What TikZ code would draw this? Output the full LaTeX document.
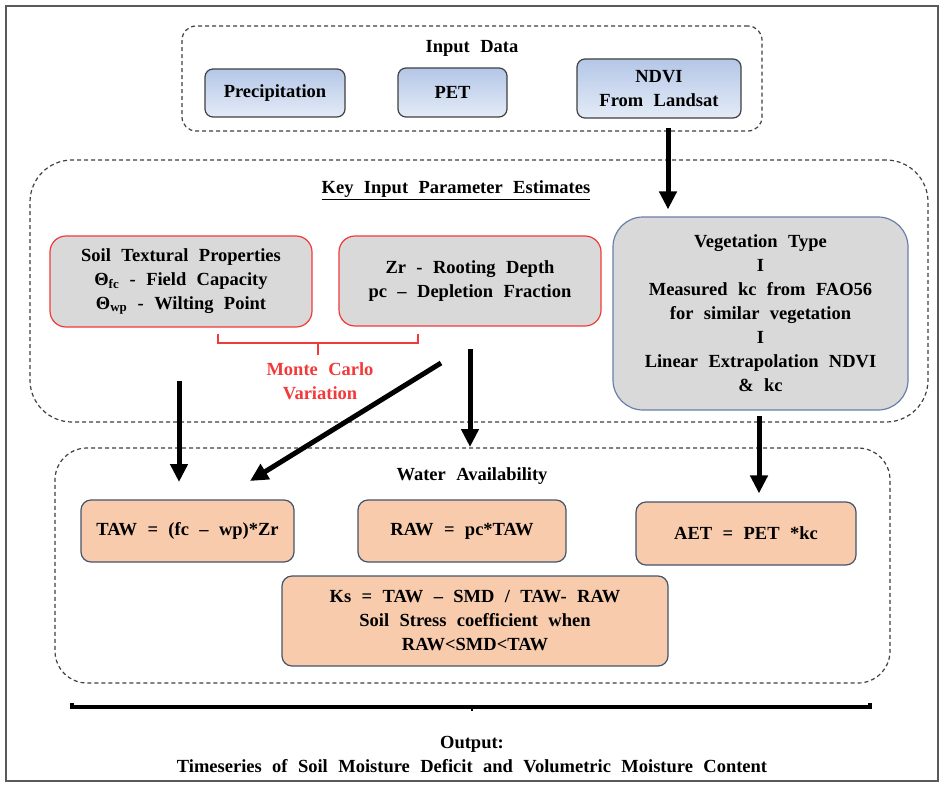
\documentclass[tikz,border=0pt]{standalone}
\usepackage{fontspec}
\setmainfont{Liberation Serif}[UprightFont={* Bold}, BoldFont={* Bold}, WordSpace=1.5]
\usetikzlibrary{arrows.meta}
\definecolor{blueTop}{HTML}{B4C7E7}
\definecolor{blueBot}{HTML}{E4EBF7}
\definecolor{boxGray}{HTML}{D9D9D9}
\definecolor{redLine}{HTML}{F23A3A}
\definecolor{vegLine}{HTML}{6A7FA8}
\definecolor{peach}{HTML}{F8CBAD}
\definecolor{peachLine}{HTML}{44546A}
\definecolor{dashGray}{HTML}{404040}
\definecolor{frameGray}{HTML}{5A5A5A}
\tikzset{
  txt/.style={font=\fontsize{18.5}{24}\selectfont\bfseries, align=center, inner sep=0pt},
  groupbox/.style={draw=dashGray, dashed, dash pattern=on 4pt off 3pt, line width=1.2pt, inner sep=0pt},
  inbox/.style={txt, draw=dashGray, line width=1.2pt, rounded corners=8pt, top color=blueTop, bottom color=blueBot},
  parbox/.style={txt, draw=redLine, line width=1.2pt, rounded corners=16pt, fill=boxGray},
  vegbox/.style={txt, draw=vegLine, line width=1.2pt, rounded corners=30pt, fill=boxGray},
  wabox/.style={txt, draw=peachLine, line width=1.2pt, rounded corners=10pt, fill=peach},
  arr/.style={line width=5pt, -{Triangle[width=17pt,length=18pt]}},
}
\begin{document}
\begin{tikzpicture}[x=1pt,y=-1pt]
\useasboundingbox (0,0) rectangle (944,784);
\fill[white] (0,0) rectangle (944,784);
\draw[frameGray, line width=2pt] (6,6) rectangle (938,781);

% group boxes
\node[groupbox, rounded corners=14pt, minimum width=580pt, minimum height=105pt] (inputgrp) at (472,78.5) {};
\node[groupbox, rounded corners=42pt, minimum width=898pt, minimum height=262pt] (keygrp) at (479,291) {};
\node[groupbox, rounded corners=32pt, minimum width=835pt, minimum height=235pt] (watergrp) at (472.5,565.5) {};

% titles
\node[txt] (inputtitle) at (472,48) {Input Data};
\node[txt] (keytitle) at (456,190) {\underline{Key Input Parameter Estimates}};
\node[txt] (watertitle) at (472,476) {Water Availability};

% input data
\node[inbox, minimum width=140pt, minimum height=48pt] (precip) at (275,93) {Precipitation};
\node[inbox, minimum width=109pt, minimum height=49pt] (pet) at (452.5,92.5) {PET};
\node[inbox, minimum width=164pt, minimum height=59pt] (ndvi) at (659,88.5) {NDVI\\From Landsat};

% parameter estimates
\node[parbox, minimum width=262pt, minimum height=91pt] (soil) at (181,281.5)
  {Soil Textural Properties\\ Θ\textsubscript{fc} - Field Capacity\\ Θ\textsubscript{wp} - Wilting Point};
\node[parbox, minimum width=262pt, minimum height=90pt] (zr) at (470,281)
  {Zr - Rooting Depth\\ pc -- Depletion Fraction};
\node[vegbox, minimum width=295pt, minimum height=193pt] (veg) at (760.5,313.5)
  {Vegetation Type\\ I\\ Measured kc from FAO56\\ for similar vegetation\\ I\\ Linear Extrapolation NDVI\\ \& kc};

% Monte Carlo bracket
\coordinate (brL) at (218,334);
\coordinate (brR) at (418,334);
\coordinate (brM) at (318,343);
\draw[redLine, line width=2pt] (brL) |- (brR |- brM) -- (brR);
\draw[redLine, line width=2pt] (brM) -- ++(0,12);
\node[txt, text=redLine] (monte) at (320,381) {Monte Carlo\\ Variation};

% water availability
\node[wabox, minimum width=213pt, minimum height=62pt] (taw) at (187.5,531) {TAW = (fc -- wp)*Zr};
\node[wabox, minimum width=208pt, minimum height=62pt] (raw) at (462,531) {RAW = pc*TAW};
\node[wabox, minimum width=220pt, minimum height=63pt] (aet) at (746,533.5) {AET = PET *kc};
\node[wabox, minimum width=386pt, minimum height=90pt] (ks) at (475,621)
  {Ks = TAW -- SMD / TAW- RAW\\ Soil Stress coefficient when\\ RAW<SMD<TAW};

% arrows
\draw[arr] ([xshift=9pt,yshift=-9pt]ndvi.south) -- ([xshift=-92.5pt,yshift=7pt]veg.north);
\coordinate (a1s) at (179,381);
\coordinate (a1e) at (179,482);
\draw[arr] (a1s) -- (a1e);
\coordinate (a2s) at (441,363);
\coordinate (a2e) at (250,481);
\draw[arr] (a2s) -- (a2e);
\coordinate (a3s) at (470,349);
\coordinate (a3e) at (470,447);
\draw[arr] (a3s) -- (a3e);
\draw[arr] ([xshift=-1.5pt,yshift=-5pt]veg.south) -- ([xshift=13pt,yshift=8pt]aet.north);

% output bracket
\coordinate (obL) at (72,703);
\coordinate (obR) at (870,703);
\coordinate (obM) at (472,707);
\draw[black, line width=4pt] (obL) |- (obR |- obM) -- (obR);
\draw[black, line width=2pt] (obM) -- ++(0,4);
\node[txt] (output) at (472,755) {Output:\\ Timeseries of Soil Moisture Deficit and Volumetric Moisture Content};
\end{tikzpicture}
\end{document}
